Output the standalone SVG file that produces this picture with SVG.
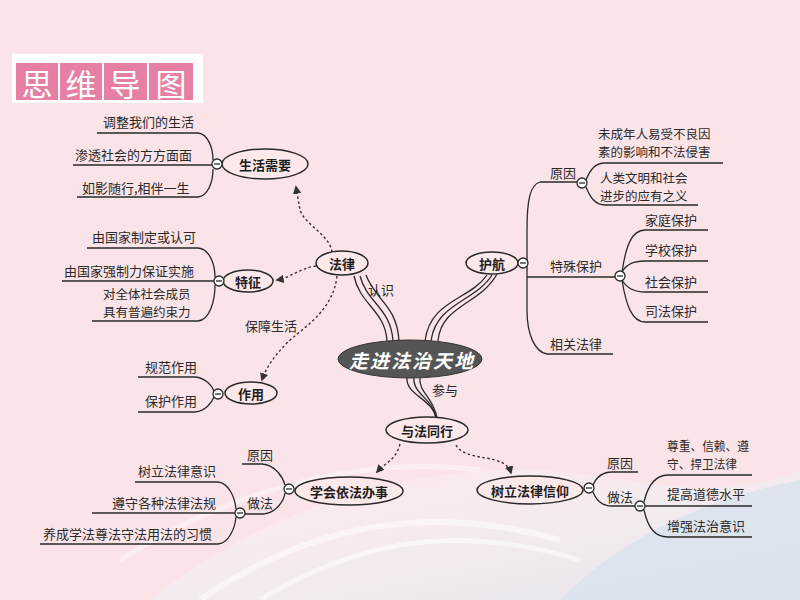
<svg xmlns="http://www.w3.org/2000/svg" width="800" height="600" viewBox="0 0 800 600">
<defs>
<style>
.t{font-family:"Noto Sans CJK SC","Noto Sans",sans-serif;font-size:13px;fill:#2a2a2a}
.t2{font-family:"Noto Sans CJK SC","Noto Sans",sans-serif;font-size:12.5px;fill:#2a2a2a}
.nt{font-family:"Noto Sans CJK SC","Noto Sans",sans-serif;font-size:13px;font-weight:bold;fill:#1e1e1e;text-anchor:middle;dominant-baseline:central}
.ln{fill:none;stroke:#2a2a2a;stroke-width:1.3}
.el{fill:#fde8ea;stroke:#2a2a2a;stroke-width:1.5}
.dash{fill:none;stroke:#333;stroke-width:1.4;stroke-dasharray:2.5 2.5}
.mc{fill:#fff;stroke:#2a2a2a;stroke-width:1.3}
.ttl{font-family:"Noto Sans CJK SC","Noto Sans",sans-serif;font-size:31px;fill:#fff;text-anchor:middle;dominant-baseline:central}
</style>
<marker id="ah" viewBox="0 0 10 10" refX="8" refY="5" markerWidth="6" markerHeight="6" orient="auto">
<path d="M0,0 L10,5 L0,10 Z" fill="#333"/>
</marker>
<symbol id="minus" viewBox="-6 -6 12 12" overflow="visible">
<circle r="5" class="mc"/><line x1="-3" y1="0" x2="3" y2="0" stroke="#2a2a2a" stroke-width="1.3"/>
</symbol>
<linearGradient id="sw" x1="0" y1="0" x2="1" y2="1">
<stop offset="0" stop-color="#ffffff" stop-opacity="0.0"/>
<stop offset="0.5" stop-color="#eef0f6" stop-opacity="0.7"/>
<stop offset="1" stop-color="#dbe4ee" stop-opacity="0.9"/>
</linearGradient>
</defs>
<rect width="800" height="600" fill="#fbe4e7"/>
<g id="background">
<path d="M150,600 C250,520 380,470 520,470 C620,470 700,510 800,470 V600 Z" fill="url(#sw)" opacity="0.8"/>
<path d="M560,600 C620,540 700,500 800,480 V600 Z" fill="#d9e2ec" opacity="0.8"/>
<path d="M200,600 C300,530 420,500 560,540" fill="none" stroke="#fff" stroke-width="6" opacity="0.5"/>
<path d="M260,600 C350,545 450,520 580,560" fill="none" stroke="#fff" stroke-width="5" opacity="0.5"/>
<path d="M120,560 C230,490 360,455 480,470" fill="none" stroke="#fff" stroke-width="5" opacity="0.4"/>
</g>
<g id="title">
<rect x="12" y="54" width="191" height="49" fill="#ffffff"/>
<rect x="16" y="63" width="42" height="37" fill="#e57fa3"/>
<rect x="60" y="63" width="42" height="37" fill="#e57fa3"/>
<rect x="104" y="63" width="43" height="37" fill="#e57fa3"/>
<rect x="149" y="63" width="44" height="37" fill="#e57fa3"/>
<text class="ttl" x="37" y="82">思</text>
<text class="ttl" x="81" y="82">维</text>
<text class="ttl" x="125" y="82">导</text>
<text class="ttl" x="171" y="82">图</text>
</g>
<g id="connectors">
<path class="ln" d="M97,133 H198 C208,134 213,148 213,160"/>
<path class="ln" d="M73,165 H212"/>
<path class="ln" d="M77,197 H198 C208,196 213,182 213,169"/>
<path class="ln" d="M87,248 H198 C210,249 215,265 215,277"/>
<path class="ln" d="M62,281 H214"/>
<path class="ln" d="M92,321 H198 C210,320 215,300 215,285"/>
<path class="ln" d="M138,377 H195 C206,378 212,386 214,391"/>
<path class="ln" d="M138,412 H195 C206,411 212,402 214,397"/>
<path class="ln" d="M354,276 C360,305 385,310 387,341"/>
<path class="ln" d="M360,276 C367,303 391,308 393,341"/>
<path class="ln" d="M366,275 C375,300 397,305 399,341"/>
<path class="ln" d="M487,275 C470,300 430,300 425,341"/>
<path class="ln" d="M492,275 C475,302 436,303 431,341"/>
<path class="ln" d="M497,274 C480,305 441,305 438,341"/>
<path class="ln" d="M407,377 C405,395 432,398 436,418"/>
<path class="ln" d="M414,377 C412,394 433,398 436,418"/>
<path class="ln" d="M420,377 C418,392 434,398 437,418"/>
<path class="ln" d="M518,263 H523"/>
<path class="ln" d="M540,182 C530,185 527,200 527,230 V310 C527,335 535,352 547,354 H613"/>
<path class="ln" d="M540,182 H578"/>
<path class="ln" d="M527,277 H615"/>
<path class="ln" d="M586,180 C590,170 595,163 605,163 H723"/>
<path class="ln" d="M586,187 C590,197 595,205 605,205 H698"/>
<path class="ln" d="M622,272 C626,245 632,230 645,230 H708"/>
<path class="ln" d="M622,272 C626,265 632,261 645,261 H708"/>
<path class="ln" d="M622,280 C626,287 632,292 645,292 H708"/>
<path class="ln" d="M622,280 C626,305 632,322 645,322 H708"/>
<path class="ln" d="M242,464 H262 C276,465 283,478 285,485"/>
<path class="ln" d="M245,514 H263 C277,513 284,500 285,493"/>
<path class="ln" d="M135,482 H218 C229,483 235,498 236,509"/>
<path class="ln" d="M92,513 H235"/>
<path class="ln" d="M40,544 H218 C229,543 235,528 236,517"/>
<path class="ln" d="M593,485 C597,476 603,472 612,472 H638"/>
<path class="ln" d="M593,492 C597,502 603,506 612,506 H635"/>
<path class="ln" d="M644,502 C648,485 655,475 668,475 H752"/>
<path class="ln" d="M645,506 H752"/>
<path class="ln" d="M644,510 C648,528 655,537 668,537 H752"/>
<path class="dash" d="M332,252 C330,235 305,225 300,210 L296,187" marker-end="url(#ah)"/>
<path class="dash" d="M316,266 C300,268 290,278 277,280" marker-end="url(#ah)"/>
<path class="dash" d="M337,276 C333,312 302,328 287,343 C274,356 266,368 262,380" marker-end="url(#ah)"/>
<path class="dash" d="M400,444 C396,460 386,462 377,472" marker-end="url(#ah)"/>
<path class="dash" d="M456,445 C466,463 505,452 511,473" marker-end="url(#ah)"/>
<text class="t" x="368" y="295">认识</text>
<text class="t" x="245" y="331">保障生活</text>
<text class="t" x="432" y="395">参与</text>
</g>
<g id="center">
<ellipse cx="410" cy="359" rx="72" ry="19" fill="#555555" stroke="#333" stroke-width="1"/>
<text x="412" y="359" style="font-family:'Noto Sans CJK SC',sans-serif;font-size:19px;font-weight:bold;fill:#fff;text-anchor:middle;dominant-baseline:central;letter-spacing:2px;font-style:italic">走进法治天地</text>
</g>
<g id="node-shenghuo">
<ellipse class="el" cx="265" cy="164" rx="43" ry="15"/>
<text class="nt" x="265" y="164">生活需要</text>
<use href="#minus" x="211" y="158" width="12" height="12"/>
<text class="t" x="103" y="127">调整我们的生活</text>
<text class="t" x="75" y="160">渗透社会的方方面面</text>
<text class="t" x="82" y="193">如影随行,相伴一生</text>
</g>
<g id="node-falv">
<ellipse class="el" cx="342" cy="263" rx="26" ry="12"/>
<text class="nt" x="342" y="263">法律</text>
</g>
<g id="node-tezheng">
<ellipse class="el" cx="248" cy="281" rx="25" ry="11"/>
<text class="nt" x="248" y="281">特征</text>
<use href="#minus" x="213" y="275" width="12" height="12"/>
<text class="t" x="92" y="242">由国家制定或认可</text>
<text class="t" x="64" y="276">由国家强制力保证实施</text>
<text class="t2" x="103" y="299">对全体社会成员</text>
<text class="t2" x="103" y="317">具有普遍约束力</text>
</g>
<g id="node-zuoyong">
<ellipse class="el" cx="251" cy="393" rx="26" ry="11"/>
<text class="nt" x="251" y="393">作用</text>
<use href="#minus" x="212" y="388" width="12" height="12"/>
<text class="t" x="145" y="372">规范作用</text>
<text class="t" x="145" y="406">保护作用</text>
</g>
<g id="node-huhang">
<ellipse class="el" cx="492" cy="263" rx="26" ry="11"/>
<text class="nt" x="492" y="263">护航</text>
<use href="#minus" x="517" y="257" width="12" height="12"/>
<text class="t" x="550" y="178">原因</text>
<use href="#minus" x="576" y="177" width="12" height="12"/>
<text class="t2" x="598" y="139">未成年人易受不良因</text>
<text class="t2" x="598" y="157">素的影响和不法侵害</text>
<text class="t2" x="600" y="183">人类文明和社会</text>
<text class="t2" x="600" y="201">进步的应有之义</text>
<text class="t" x="550" y="271">特殊保护</text>
<use href="#minus" x="614" y="270" width="12" height="12"/>
<text class="t" x="645" y="225">家庭保护</text>
<text class="t" x="645" y="255">学校保护</text>
<text class="t" x="645" y="287">社会保护</text>
<text class="t" x="645" y="316">司法保护</text>
<text class="t" x="550" y="349">相关法律</text>
</g>
<g id="node-yufa">
<ellipse class="el" cx="427" cy="430" rx="41" ry="13"/>
<text class="nt" x="427" y="430">与法同行</text>
</g>
<g id="node-xuehui">
<ellipse class="el" cx="349" cy="491" rx="54" ry="14"/>
<text class="nt" x="349" y="491">学会依法办事</text>
<use href="#minus" x="283" y="483" width="12" height="12"/>
<text class="t" x="247" y="460">原因</text>
<text class="t" x="247" y="508">做法</text>
<use href="#minus" x="234" y="507" width="12" height="12"/>
<text class="t" x="138" y="476">树立法律意识</text>
<text class="t" x="112" y="508">遵守各种法律法规</text>
<text class="t" x="43" y="539">养成学法尊法守法用法的习惯</text>
</g>
<g id="node-shuli">
<ellipse class="el" cx="530" cy="490" rx="53" ry="14"/>
<text class="nt" x="530" y="490">树立法律信仰</text>
<use href="#minus" x="583" y="482" width="12" height="12"/>
<text class="t" x="607" y="468">原因</text>
<text class="t" x="607" y="502">做法</text>
<use href="#minus" x="634" y="500" width="12" height="12"/>
<text class="t2" x="667" y="451" textLength="82" lengthAdjust="spacingAndGlyphs">尊重、信赖、遵</text>
<text class="t2" x="667" y="469" textLength="70" lengthAdjust="spacingAndGlyphs">守、捍卫法律</text>
<text class="t" x="667" y="499">提高道德水平</text>
<text class="t" x="667" y="531">增强法治意识</text>
</g>
</svg>
